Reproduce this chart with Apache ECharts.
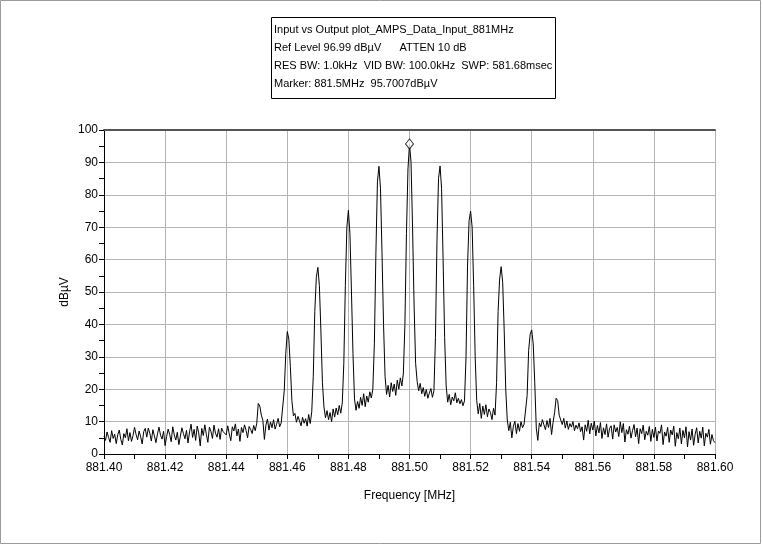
<!DOCTYPE html>
<html>
<head>
<meta charset="utf-8">
<title>Input vs Output plot_AMPS_Data_Input_881MHz</title>
<script src="https://cdn.jsdelivr.net/npm/echarts@6/dist/echarts.min.js"></script>
<style>
  html, body { margin: 0; padding: 0; background: #fff; }
  #chart { width: 763px; height: 546px; }
</style>
</head>
<body>
<div id="chart"></div>
<script>
// sweep settings (881.40 .. 881.60 MHz, 401 points)
const startMHz = 881.40;
const stepMHz = 0.0005;

// header lines of the info box
const infoLines = [
  'Input vs Output plot_AMPS_Data_Input_881MHz',
  'Ref Level 96.99 dB\u00b5V      ATTEN 10 dB',
  'RES BW: 1.0kHz  VID BW: 100.0kHz  SWP: 581.68msec',
  'Marker: 881.5MHz  95.7007dB\u00b5V'
];

// marker reading
const markerPoint = [881.50, 95.7007];

// trace values in dBuV, 20 points per 0.01 MHz
const level = [
  // 881.40
  5.5, 4.2, 6.8, 5.1, 3.6, 7.2, 4.8, 6.1, 3.2, 5.9, 7.4, 4.5, 2.8, 6.3, 5.0, 7.8, 4.1, 6.6, 3.9, 5.7,
  // 881.41
  8.2, 6.0, 4.4, 7.1, 5.3, 3.1, 6.9, 7.9, 5.2, 8.0, 6.4, 4.0, 7.5, 5.6, 3.5, 6.2, 8.3, 5.8, 4.6, 7.0,
  // 881.42
  2.6, 5.4, 7.7, 6.0, 3.8, 8.4, 5.9, 4.3, 6.7, 2.9, 5.5, 8.1, 6.3, 4.7, 7.3, 3.4, 6.8, 9.2, 5.1, 7.6,
  // 881.43
  4.2, 8.6, 6.5, 2.5, 7.9, 5.7, 9.0, 6.1, 3.6, 8.3, 7.0, 4.8, 8.9, 6.4, 5.2, 7.8, 4.5, 8.0, 6.9, 7.4,
  // 881.44
  5.9, 8.7, 6.2, 4.1, 8.4, 7.1, 9.3, 5.6, 7.7, 3.9, 8.2, 6.6, 9.0, 7.3, 5.0, 8.5, 7.6, 6.3, 8.8, 7.2,
  // 881.45
  9.5, 15.6, 14.8, 12.0, 10.4, 4.5, 8.9, 10.8, 7.4, 9.9, 8.1, 10.6, 7.7, 9.2, 11.0, 8.4, 9.6, 10.2, 19.5, 31.0,
  // 881.46
  37.8, 35.5, 27.0, 16.5, 11.8, 12.5, 9.8, 11.6, 10.2, 8.7, 11.3, 9.5, 10.9, 8.6, 12.2, 9.4, 13.0, 24.0, 44.0, 54.5,
  // 881.47
  57.6, 52.0, 38.0, 22.0, 14.5, 11.2, 13.4, 10.6, 12.8, 10.0, 13.9, 11.4, 14.2, 12.1, 15.0, 12.6, 15.8, 28.0, 52.0, 70.0,
  // 881.48
  75.2, 68.0, 50.0, 31.0, 17.0, 13.5, 16.2, 14.1, 17.5, 15.0, 18.6, 14.6, 17.9, 16.0, 19.2, 17.3, 20.0, 34.0, 62.0, 84.0,
  // 881.49
  88.8, 82.0, 62.0, 40.0, 24.0, 18.4, 21.2, 17.6, 22.0, 19.3, 21.6, 18.1, 22.8, 20.0, 23.5, 21.0, 25.0, 40.0, 68.0, 88.0,
  // 881.50
  95.7, 90.0, 70.0, 46.0, 28.0, 22.4, 19.5, 21.8, 18.6, 20.5, 17.8, 19.9, 17.2, 18.8, 20.2, 17.5, 19.6, 36.0, 66.0, 85.0,
  // 881.51
  88.9, 82.0, 60.0, 36.0, 21.0, 16.0, 18.4, 15.2, 17.6, 16.4, 18.9, 15.8, 17.2, 15.5, 16.8, 14.9, 16.4, 30.0, 58.0, 72.0,
  // 881.52
  75.0, 70.0, 52.0, 30.0, 16.5, 12.4, 15.6, 11.0, 14.8, 12.2, 15.2, 11.5, 13.9, 12.8, 10.6, 14.1, 12.0, 22.0, 44.0, 54.0,
  // 881.53
  57.8, 53.0, 38.0, 20.0, 10.5, 7.2, 9.8, 5.0, 8.6, 10.1, 6.3, 9.4, 7.0, 10.0, 8.1, 9.2, 9.0, 18.0, 32.0, 37.0,
  // 881.54
  38.3, 34.0, 22.0, 8.0, 4.2, 9.6, 8.4, 10.6, 9.0, 7.5, 10.3, 8.2, 11.0, 6.0, 9.8, 12.8, 17.2, 16.5, 12.0, 10.5,
  // 881.55
  9.1, 11.0, 8.0, 10.2, 7.6, 9.4, 8.3, 10.0, 7.2, 8.9, 7.8, 9.6, 6.9, 8.4, 4.3, 9.0, 7.0, 10.4, 6.2, 9.5,
  // 881.56
  7.4, 10.1, 5.6, 8.8, 6.5, 9.7, 4.8, 8.1, 6.0, 9.3, 5.2, 7.9, 8.7, 4.6, 9.0, 6.8, 8.2, 5.4, 9.9, 6.6,
  // 881.57
  9.4, 3.7, 7.5, 6.1, 8.6, 4.9, 7.2, 9.1, 5.3, 8.0, 3.2, 7.8, 6.3, 8.9, 4.4, 7.0, 5.8, 8.5, 3.9, 7.6,
  // 881.58
  5.1, 8.3, 4.0, 7.1, 6.4, 9.0, 2.9, 6.8, 5.5, 8.2, 3.6, 7.4, 5.9, 8.6, 2.4, 6.6, 4.7, 8.0, 3.1, 7.3,
  // 881.59 .. 881.60
  5.0, 8.4, 2.2, 6.9, 4.3, 7.7, 2.7, 6.1, 8.1, 3.4, 7.0, 4.9, 8.3, 2.5, 6.4, 5.2, 7.6, 3.0, 6.0, 4.1, 3.5
];

const trace = level.map((v, i) => [+(startMHz + i * stepMHz).toFixed(4), v]);

const font = 'Liberation Sans, Arial, sans-serif';

const chart = echarts.init(document.getElementById('chart'));
chart.setOption({
  animation: false,
  backgroundColor: '#fff',
  grid: { left: 104, right: 48, top: 130, bottom: 92 },
  graphic: [
    // outer frame
    { type: 'rect', shape: { x: 0.5, y: 0.5, width: 760, height: 543 },
      style: { fill: 'none', stroke: '#9a9a9a', lineWidth: 1 }, silent: true },
    // info box
    { type: 'rect', shape: { x: 271.5, y: 17.5, width: 284, height: 81 },
      style: { fill: '#fff', stroke: '#000', lineWidth: 1 }, silent: true },
    { type: 'text', left: 274, top: 21, silent: true,
      style: { text: infoLines.join('\n'), font: '11px ' + font, fill: '#000', lineHeight: 18 } }
  ],
  xAxis: [{
    type: 'value',
    min: 881.40,
    max: 881.60,
    interval: 0.02,
    name: 'Frequency [MHz]',
    nameLocation: 'middle',
    nameGap: 36,
    nameTextStyle: { color: '#000', fontFamily: font, fontSize: 12 },
    axisLine: { lineStyle: { color: '#000', width: 1 } },
    axisTick: { show: true, length: 5, lineStyle: { color: '#000' } },
    minorTick: { show: true, splitNumber: 2, length: 5, lineStyle: { color: '#000' } },
    axisLabel: { color: '#000', fontFamily: font, fontSize: 12, margin: 8,
      formatter: v => v.toFixed(2) },
    splitLine: { show: true, lineStyle: { color: '#b4b4b4', width: 1 } }
  }, {
    // dark frame line on top of the plot
    type: 'value', position: 'top', min: 881.40, max: 881.60,
    axisLine: { show: true, lineStyle: { color: '#555', width: 2 } },
    axisTick: { show: false }, axisLabel: { show: false }, splitLine: { show: false }
  }],
  yAxis: {
    type: 'value',
    min: 0,
    max: 100,
    interval: 10,
    name: 'dB\u00b5V',
    nameLocation: 'middle',
    nameGap: 33,
    nameMoveOverlap: false,
    nameTextStyle: { color: '#000', fontFamily: font, fontSize: 12 },
    axisLine: { show: true, lineStyle: { color: '#000', width: 1 } },
    axisTick: { show: true, length: 5, lineStyle: { color: '#000' } },
    minorTick: { show: true, splitNumber: 2, length: 5, lineStyle: { color: '#000' } },
    axisLabel: { color: '#000', fontFamily: font, fontSize: 12, margin: 6 },
    splitLine: { show: true, lineStyle: { color: '#b4b4b4', width: 1 } }
  },
  series: [{
    type: 'line',
    data: trace,
    showSymbol: false,
    lineStyle: { color: '#000', width: 1 },
    z: 3
  }, {
    type: 'scatter',
    data: [markerPoint],
    symbol: 'diamond',
    symbolSize: [8, 10],
    itemStyle: { color: '#fff', borderColor: '#000', borderWidth: 1 },
    z: 4
  }]
});
</script>
</body>
</html>
